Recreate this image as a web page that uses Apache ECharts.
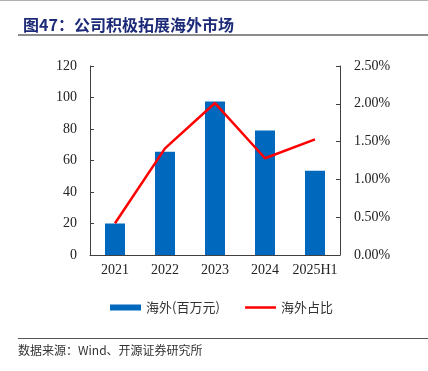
<!DOCTYPE html>
<html><head><meta charset="utf-8">
<script src="https://cdn.jsdelivr.net/npm/echarts@6/dist/echarts.min.js"></script>
<style>html,body{margin:0;padding:0;background:#fff;}#c{width:428px;height:371px;}</style>
</head><body><div id="c"></div>
<script>
const categories = ['2021', '2022', '2023', '2024', '2025H1'];
const overseasRevenue = [20, 65.5, 97.5, 79, 53.5];
const overseasShare = [0.42, 1.41, 2.01, 1.28, 1.53];
const leftTicks = { min: 0, max: 120, interval: 20 };
const rightTicks = { min: 0, max: 2.5, interval: 0.5 };

const chart = echarts.init(document.getElementById('c'), null, { renderer: 'canvas' });
const serif = '"Liberation Serif", "Times New Roman", serif';
const cjk = '"Noto Sans CJK SC", sans-serif';
const axisColor = '#404040';
chart.setOption({
  animation: false,
  backgroundColor: '#fff',
  title: {
    text: '图47：公司积极拓展海外市场',
    left: 18, top: 12,
    textStyle: { fontFamily: cjk, fontSize: 16, fontWeight: 'bold', color: '#1c2a78' }
  },
  graphic: [
    { type: 'line', shape: { x1: 0, y1: 0.5, x2: 428, y2: 0.5 }, style: { stroke: '#b0b0b0', lineWidth: 1 } },
    { type: 'line', shape: { x1: 18, y1: 35, x2: 428, y2: 35 }, style: { stroke: '#8c8c8c', lineWidth: 2 } },
    { type: 'line', shape: { x1: 18, y1: 338.5, x2: 428, y2: 338.5 }, style: { stroke: '#555', lineWidth: 1 } },
    { type: 'text', left: 18, top: 344, style: { text: '数据来源：Wind、开源证券研究所', font: '12px ' + cjk, fill: '#333' } }
  ],
  legend: {
    left: 105, top: 296,
    itemWidth: 31, itemHeight: 6, itemGap: 24,
    textStyle: { fontFamily: cjk, fontSize: 13, color: '#333' },
    data: [
      { name: '海外(百万元)', icon: 'rect' },
      { name: '海外占比', itemStyle: { opacity: 0 }, lineStyle: { color: '#ff0000', width: 2.5 } }
    ]
  },
  grid: { left: 90, right: 88, top: 66, bottom: 116, containLabel: false },
  xAxis: {
    type: 'category', data: categories,
    axisLine: { lineStyle: { color: axisColor, width: 1 } },
    axisTick: { inside: true, length: 4, lineStyle: { color: axisColor } },
    axisLabel: { interval: 0, fontFamily: serif, fontSize: 14, color: '#222', margin: 8 }
  },
  yAxis: [
    {
      type: 'value', min: leftTicks.min, max: leftTicks.max, interval: leftTicks.interval,
      axisLine: { show: true, lineStyle: { color: axisColor } },
      axisTick: { show: true, inside: true, length: 4, lineStyle: { color: axisColor } },
      splitLine: { show: false },
      axisLabel: { fontFamily: serif, fontSize: 14, color: '#222', margin: 13 }
    },
    {
      type: 'value', min: rightTicks.min, max: rightTicks.max, interval: rightTicks.interval,
      axisLine: { show: true, lineStyle: { color: axisColor } },
      axisTick: { show: true, inside: true, length: 4, lineStyle: { color: axisColor } },
      splitLine: { show: false },
      axisLabel: { fontFamily: serif, fontSize: 14, color: '#222', margin: 14, formatter: v => v.toFixed(2) + '%' }
    }
  ],
  series: [
    { name: '海外(百万元)', type: 'bar', data: overseasRevenue, barWidth: 20, itemStyle: { color: '#0068bd' } },
    { name: '海外占比', type: 'line', yAxisIndex: 1, data: overseasShare, symbol: 'none',
      lineStyle: { color: '#ff0000', width: 2.5 }, itemStyle: { color: '#ff0000' } }
  ]
});
</script></body></html>
